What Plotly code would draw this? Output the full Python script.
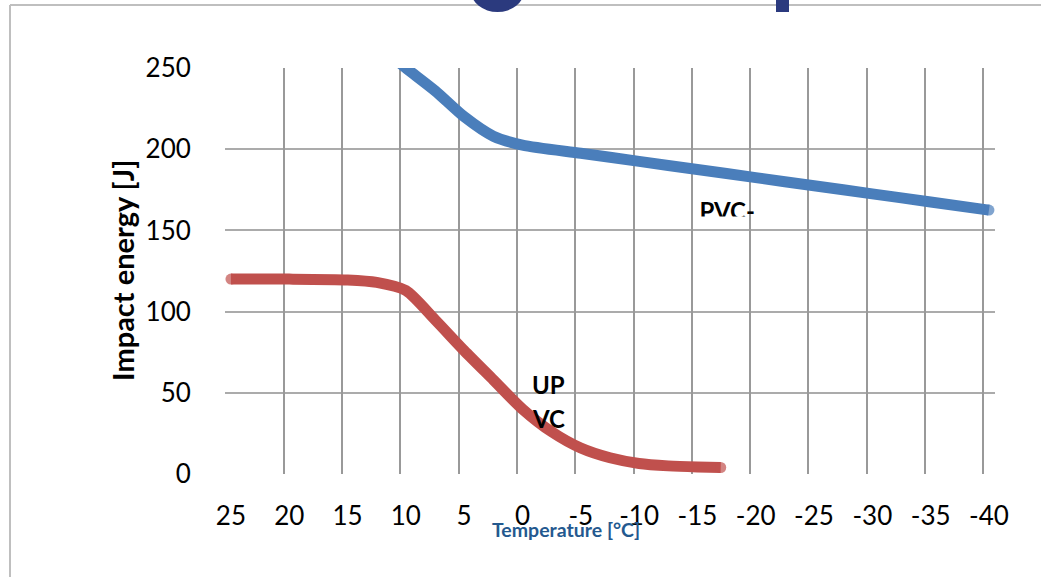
import plotly.graph_objects as go

# ---- data ----
temp_ticks = [25, 20, 15, 10, 5, 0, -5, -10, -15, -20, -25, -30, -35, -40]
tick_text = ["25", "20", "15", "10", "5", "0", "-5", "-10", "-15", "-20", "-25", "-30", "-35", "-40"]

pvc_x = [11, 10, 7.5, 5, 2.5, 0, -5, -10, -15, -20, -25, -30, -35, -40]
pvc_y = [256, 250, 236, 220, 208, 202.5, 197.5, 192.5, 187.5, 182.5, 177.5, 172.5, 167.5, 162.5]

upvc_x = [25, 20, 15, 12.5, 10, 7.5, 5, 2.5, 0, -2.5, -5, -7.5, -10, -12.5, -15, -17]
upvc_y = [120, 120, 119.5, 118, 113, 95, 76, 58, 40, 26, 16, 10, 6.5, 5, 4.3, 4]

y_ticks = [0, 50, 100, 150, 200, 250]

W, H = 1041, 577
L, R, T, B = 225, 995, 68, 474

def px(xp):
    return (xp - L) / (R - L)

def py(yp):
    return (B - yp) / (B - T)

BLUE = "#4a7ebb"
RED = "#c0504d"
FONT = "Lato"

fig = go.Figure()

# invisible trace on the grid axis (gridlines sit slightly left of the data positions)
fig.add_trace(go.Scatter(x=temp_ticks, y=[0] * len(temp_ticks), xaxis="x2", yaxis="y",
                         mode="lines", line=dict(width=0), opacity=0,
                         hoverinfo="skip", showlegend=False))

def caps(n, first=False):
    s = [0] * n
    s[-1] = 11
    if first:
        s[0] = 11
    return s

fig.add_trace(go.Scatter(x=pvc_x, y=pvc_y, mode="lines+markers", name="PVC",
                         line=dict(color=BLUE, width=11, shape="spline", smoothing=0.7),
                         marker=dict(color=BLUE, size=caps(len(pvc_x)), line=dict(width=0)),
                         showlegend=False))
fig.add_trace(go.Scatter(x=upvc_x, y=upvc_y, mode="lines+markers", name="UPVC",
                         line=dict(color=RED, width=11, shape="spline", smoothing=0.7),
                         marker=dict(color=RED, size=caps(len(upvc_x), True), line=dict(width=0)),
                         showlegend=False))

# series label (bottom part hidden, as in the reference)
fig.add_trace(go.Scatter(x=[-17.55], y=[160.0], mode="text", text=["<b>PVC-</b>"],
                         textfont=dict(family=FONT, size=24, color="black"),
                         showlegend=False, hoverinfo="skip"))

shapes = []
shapes.append(dict(type="rect", xref="x2", yref="y", x0=-15.12, x1=-19.9, y0=151.2, y1=158.6,
                   fillcolor="white", line=dict(width=0), layer="above"))
# page frame lines
shapes.append(dict(type="line", xref="paper", yref="paper", x0=px(10), x1=px(1045), y0=py(5), y1=py(5),
                   line=dict(color="#bfbfbf", width=2)))
shapes.append(dict(type="line", xref="paper", yref="paper", x0=px(10), x1=px(10), y0=py(5), y1=py(580),
                   line=dict(color="#bfbfbf", width=2)))
# cut-off logo pieces at the top
shapes.append(dict(type="circle", xref="paper", yref="paper", x0=px(471), x1=px(524), y0=py(-30), y1=py(12),
                   fillcolor="#2b3a7e", line=dict(width=0)))
shapes.append(dict(type="rect", xref="paper", yref="paper", x0=px(776), x1=px(789), y0=py(-5), y1=py(12),
                   fillcolor="#2b3a7e", line=dict(width=0)))

annotations = [
    dict(text="<b>UP</b>", x=-2.2, y=55.4, xref="x", yref="y", showarrow=False,
         font=dict(family=FONT, size=24, color="black")),
    dict(text="<b>VC</b>", x=-2.2, y=33.9, xref="x", yref="y", showarrow=False,
         font=dict(family=FONT, size=24, color="black")),
    dict(text="<b>Impact energy [J]</b>", x=px(122), y=py(271), xref="paper", yref="paper",
         xanchor="center", yanchor="middle",
         showarrow=False, textangle=-90, font=dict(family=FONT, size=29, color="black")),
    dict(text="<b>Temperature [°C]</b>", x=px(566), y=py(529), xref="paper", yref="paper",
         xanchor="center", yanchor="middle",
         showarrow=False, font=dict(family=FONT, size=19.5, color="#24598f")),
]

fig.update_layout(
    width=W, height=H,
    margin=dict(l=L, r=W - R, t=T, b=H - B),
    paper_bgcolor="white", plot_bgcolor="white",
    font=dict(family=FONT, color="black"),
    xaxis=dict(range=[25.51, -40.52], tickvals=temp_ticks, ticktext=tick_text,
               showgrid=False, zeroline=False, showline=False,
               ticks="outside", ticklen=19, tickcolor="rgba(0,0,0,0)",
               tickfont=dict(family=FONT, size=26, color="black")),
    xaxis2=dict(range=[25.04, -41.0], tickvals=temp_ticks, overlaying="x", anchor="y",
                showgrid=True, gridcolor="#999999", gridwidth=1.6, zeroline=False,
                showticklabels=False, showline=False, ticks=""),
    yaxis=dict(range=[0, 250], tickvals=y_ticks, showgrid=True, gridcolor="#ababab", gridwidth=1.6,
               zeroline=False, showline=False,
               ticks="outside", ticklen=28, tickcolor="rgba(0,0,0,0)",
               tickfont=dict(family=FONT, size=26, color="black")),
    shapes=shapes,
    annotations=annotations,
    showlegend=False,
)

fig.write_html("out.html", config={"displayModeBar": False},
               post_script="document.body.style.margin='0';")
